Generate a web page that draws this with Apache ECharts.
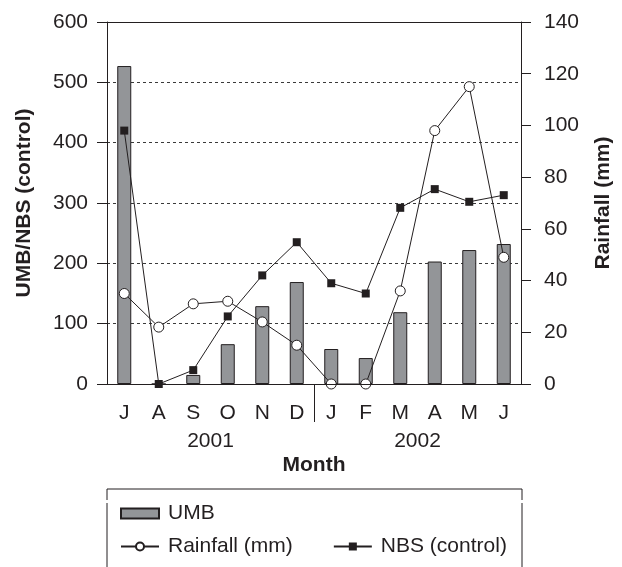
<!DOCTYPE html>
<html>
<head>
<meta charset="utf-8">
<script src="https://cdn.jsdelivr.net/npm/echarts@6/dist/echarts.min.js"></script>
<style>html,body{margin:0;padding:0;background:#fff}#c{width:622px;height:567px}</style>
</head>
<body>
<div id="c"></div>
<script>
const months = ['J','A','S','O','N','D','J','F','M','A','M','J'];
const years = ['2001','2002'];
const umb = [527, 0, 15, 66, 129, 169, 58, 43, 119, 203, 222, 232];
const nbs = [420, 0, 23, 112, 180, 235, 167, 150, 292, 323, 302, 313];
const rainfall = [35, 22, 31, 32, 24, 15, 0, 0, 36, 98, 115, 49];
const leftTicks = {min: 0, max: 600, interval: 100};
const rightTicks = {min: 0, max: 140, interval: 20};

const FONT = "'Liberation Sans', Arial, Helvetica, sans-serif";
const INK = '#231f20';
const FS = 21;
const chart = echarts.init(document.getElementById('c'), null, {renderer: 'canvas'});
chart.setOption({
  animation: false,
  backgroundColor: '#fff',
  textStyle: {fontFamily: FONT, color: INK},
  grid: {left: 107, right: 100, top: 22, bottom: 183, containLabel: false},
  xAxis: [
    {
      type: 'category', data: months, position: 'bottom',
      axisLine: {lineStyle: {color: INK, width: 1}},
      axisTick: {alignWithLabel: false, length: 11, lineStyle: {color: INK}},
      axisLabel: {fontSize: FS, color: INK, margin: 19, fontFamily: FONT},
      name: 'Month', nameLocation: 'middle', nameGap: 71,
      nameTextStyle: {fontSize: FS, fontWeight: 'bold', color: INK, fontFamily: FONT},
      z: 5
    },
    {
      type: 'value', min: 0, max: 12, position: 'bottom',
      axisLine: {show: false},
      axisTick: {show: true, customValues: [6], length: 38, lineStyle: {color: INK}},
      axisLabel: {customValues: [3, 9], formatter: v => years[v < 6 ? 0 : 1],
        fontSize: FS, color: INK, margin: 47, fontFamily: FONT},
      splitLine: {show: false}
    },
    {
      type: 'category', data: months, position: 'top',
      axisLine: {show: true, lineStyle: {color: INK, width: 1}},
      axisTick: {show: false}, axisLabel: {show: false}, splitLine: {show: false}, z: 5
    }
  ],
  yAxis: [
    {
      type: 'value', min: leftTicks.min, max: leftTicks.max, interval: leftTicks.interval, position: 'left',
      axisLine: {show: true, lineStyle: {color: INK}},
      axisTick: {show: true, length: 10, lineStyle: {color: INK}},
      axisLabel: {fontSize: FS, color: INK, margin: 19, fontFamily: FONT},
      splitLine: {show: true, lineStyle: {color: '#3a3a3a', type: [3, 3], width: 1}},
      name: 'UMB/NBS (control)', nameLocation: 'middle', nameGap: 72, nameRotate: 90,
      nameTextStyle: {fontSize: FS, fontWeight: 'bold', color: INK, fontFamily: FONT}
    },
    {
      type: 'value', min: rightTicks.min, max: rightTicks.max, interval: rightTicks.interval, position: 'right',
      axisLine: {show: true, lineStyle: {color: INK}},
      axisTick: {show: true, length: 10, lineStyle: {color: INK}},
      axisLabel: {fontSize: FS, color: INK, margin: 23, fontFamily: FONT},
      splitLine: {show: false},
      name: 'Rainfall (mm)', nameLocation: 'middle', nameGap: 72, nameRotate: 90,
      nameTextStyle: {fontSize: FS, fontWeight: 'bold', color: INK, fontFamily: FONT}
    }
  ],
  legend: [
    {
      data: [{name: 'UMB', icon: 'rect'}], left: 115, top: 498, itemWidth: 38, itemHeight: 10, itemGap: 36,
      textStyle: {fontSize: FS, color: INK, fontFamily: FONT, padding: [0, 0, 0, 4]}
    },
    {
      data: ['Rainfall (mm)', 'NBS (control)'], left: 115, top: 531, itemWidth: 38, itemHeight: 10, itemGap: 40,
      textStyle: {fontSize: FS, color: INK, fontFamily: FONT, padding: [0, 0, 0, 4]}
    }
  ],
  graphic: [
    {type: 'polyline', shape: {points: [[107, 500], [107, 489], [522, 489], [522, 500]]},
     style: {stroke: INK, lineWidth: 1, fill: null}},
    {type: 'line', shape: {x1: 107, y1: 503, x2: 107, y2: 570}, style: {stroke: INK, lineWidth: 1}},
    {type: 'line', shape: {x1: 522, y1: 503, x2: 522, y2: 570}, style: {stroke: INK, lineWidth: 1}}
  ],
  series: [
    {
      name: 'UMB', type: 'bar', data: umb, xAxisIndex: 0, yAxisIndex: 0, barWidth: 14,
      itemStyle: {color: '#939598', borderColor: INK, borderWidth: 1}, z: 2
    },
    {
      name: 'NBS (control)', type: 'line', data: nbs, xAxisIndex: 0, yAxisIndex: 0,
      symbol: 'rect', symbolSize: 8, showAllSymbol: true,
      lineStyle: {color: INK, width: 1}, itemStyle: {color: INK, borderColor: INK, borderWidth: 0}, z: 3
    },
    {
      name: 'Rainfall (mm)', type: 'line', data: rainfall, xAxisIndex: 0, yAxisIndex: 1,
      symbol: 'circle', symbolSize: 10, showAllSymbol: true,
      lineStyle: {color: INK, width: 1}, itemStyle: {color: '#fff', borderColor: INK, borderWidth: 1}, z: 4
    }
  ]
});
</script>
</body>
</html>
